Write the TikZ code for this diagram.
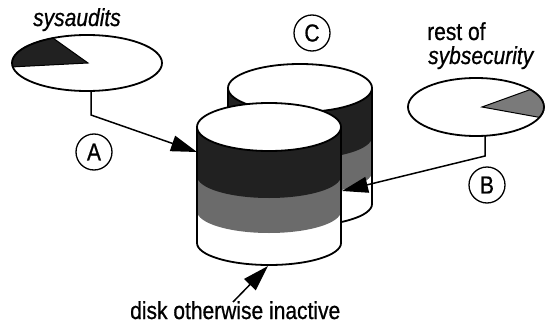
\documentclass[tikz,border=0pt]{standalone}
\usepackage{fontspec}
\setmainfont{Liberation Sans}[FakeBold=0.8]
\usetikzlibrary{arrows.meta,calc}

\definecolor{darkband}{gray}{0.13}
\definecolor{midband}{gray}{0.42}
\definecolor{pieshade}{gray}{0.48}

% tall, narrow lettering
\newcommand{\tall}[1]{\scalebox{1}[1.17]{#1}}

\tikzset{
  outline/.style={line width=1.8pt},
  conn/.style={line width=1.5pt, -{Triangle[length=26pt,width=16pt]}},
  label/.style={inner sep=0pt, anchor=base west, font=\fontsize{21}{24}\selectfont},
  letterc/.style={circle, draw, line width=1.3pt, minimum size=36pt, inner sep=0pt,
                  font=\fontsize{21}{24}\selectfont},
}

% disk drawn as a banded cylinder; #1,#2 = centre of the top face
\newcommand{\drawdisk}[2]{%
  \begin{scope}[shift={(#1,#2)}]
    \fill[white] (-72,0) -- (-72,-116) arc[start angle=180,end angle=360,x radius=72,y radius=22] -- (72,0) -- cycle;
    \fill[midband] (-72,0) -- (-72,-84) arc[start angle=180,end angle=360,x radius=72,y radius=22] -- (72,0) -- cycle;
    \fill[darkband] (-72,0) -- (-72,-49) arc[start angle=180,end angle=360,x radius=72,y radius=22] -- (72,0) -- cycle;
    \draw[outline] (-72,0) -- (-72,-116) arc[start angle=180,end angle=360,x radius=72,y radius=22] -- (72,0);
    \filldraw[outline, fill=white] (0,0) ellipse[x radius=72, y radius=24];
  \end{scope}}

\begin{document}
\begin{tikzpicture}[x=1pt,y=1pt]
  \useasboundingbox (0,0) rectangle (545,-326);

  % left pie: sysaudits
  \coordinate (pieL) at (87,-63);
  \fill[white] (pieL) ellipse[x radius=75, y radius=28];
  \filldraw[line width=1pt, fill=darkband] (88,-63) -- ($(pieL)+(117:75 and 28)$)
      arc[start angle=117, end angle=188, x radius=75, y radius=28] -- cycle;
  \draw[outline] (pieL) ellipse[x radius=75, y radius=28];
  \node[label] (tSysaudits) at (33,-26) {\tall{\itshape sysaudits}};

  % right pie: rest of sybsecurity
  \coordinate (pieR) at (476,-107);
  \fill[white] (pieR) ellipse[x radius=68, y radius=29];
  \filldraw[line width=1pt, fill=pieshade] (482,-107) -- ($(pieR)+(37:68 and 29)$)
      arc[start angle=37, end angle=-21, x radius=68, y radius=29] -- cycle;
  \draw[outline] (pieR) ellipse[x radius=68, y radius=29];
  \node[label] (tRest) at (427,-40) {\tall{rest of}};
  \node[label] (tSyb) at (428,-64) {\tall{\itshape sybsecurity}};

  % the two disks
  \drawdisk{300}{-88}
  \drawdisk{269}{-127}

  % circled letters
  \node[letterc] (lblA) at (94,-152) {\tall{A}};
  \node[letterc] (lblB) at (487,-185) {\tall{B}};
  \node[letterc] (lblC) at (312,-33) {\tall{C}};

  % connectors
  \coordinate (srcL) at (91,-91);
  \coordinate (bendL) at (91,-115);
  \coordinate (tipL) at (197,-152);
  \draw[conn] (srcL) -- (bendL) -- (tipL);

  \coordinate (srcR) at (485,-136);
  \coordinate (bendR) at (485,-156);
  \coordinate (tipR) at (342,-191);
  \draw[conn] (srcR) -- (bendR) -- (tipR);

  \node[label] (tDisk) at (130,-319) {\tall{disk otherwise inactive}};
  \coordinate (tailD) at (233,-302);
  \coordinate (tipD) at (268,-266);
  \draw[conn] (tailD) -- (tipD);
\end{tikzpicture}
\end{document}
